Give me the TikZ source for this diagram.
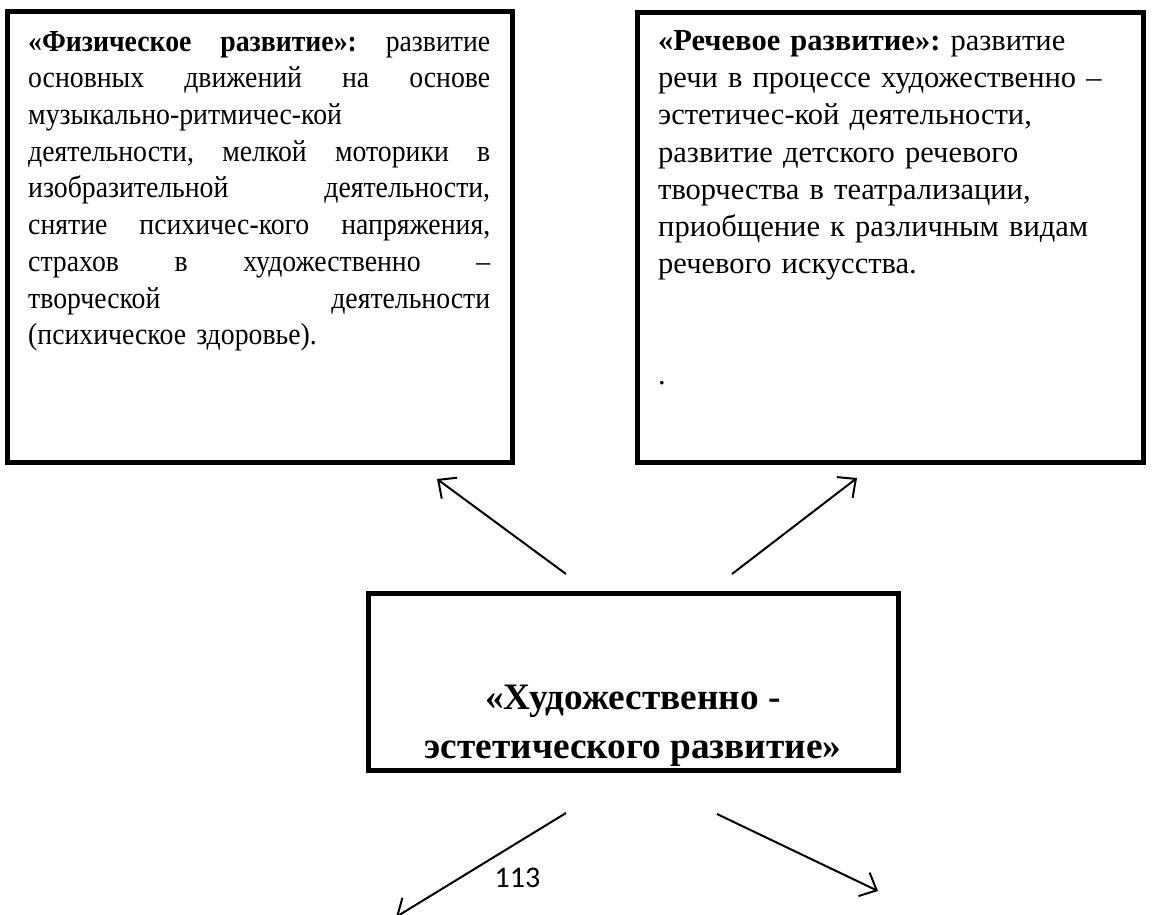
\documentclass[tikz,border=0pt]{standalone}
\usepackage{fontspec}
\setmainfont{Liberation Serif}
\newfontfamily\condfont[FakeStretch=0.91]{Liberation Serif}
\newfontfamily\numfont{Carlito}
\usetikzlibrary{arrows.meta}
\frenchspacing
\tikzset{
  bigbox/.style={draw=black, line width=5pt, rectangle, inner sep=0pt},
  bodytext/.style={anchor=north west, inner sep=0pt, text width=462pt, align=left,
    font=\fontsize{30.5}{37.3}\selectfont\frenchspacing},
  conn/.style={line width=2pt, -{Straight Barb[length=14pt, width=26pt, line width=2pt]}},
}
\newcommand{\jline}[1]{\makebox[462pt][s]{\spaceskip=0.25em plus 1fill\relax #1}\\}
\begin{document}
\begin{tikzpicture}[x=1pt, y=-1pt]
\useasboundingbox (0,0) rectangle (1176,915);
% boxes
\node[bigbox, minimum width=505pt, minimum height=450pt] (L) at (259.5,237) {};
\node[bigbox, minimum width=506pt, minimum height=449pt] (R) at (890,237.5) {};
\node[bigbox, minimum width=530pt, minimum height=177pt] (C) at (633,681.5) {};
% left text
\node[bodytext, font=\condfont\fontsize{30.5}{36.7}\selectfont] (Lt) at (28,31) {%
\jline{\textbf{«Физическое развитие»:} развитие}
\jline{основных движений на основе}
музыкально-ритмичес-кой\\
\jline{деятельности, мелкой моторики в}
\jline{изобразительной деятельности,}
\jline{снятие психичес-кого напряжения,}
\jline{страхов в художественно –}
\jline{творческой деятельности}
(психическое здоровье).};
% right text
\node[bodytext] (Rt) at (658,30) {%
\textbf{«Речевое развитие»:} развитие\\
речи в процессе художественно –\\
эстетичес-кой деятельности,\\
развитие детского речевого\\
творчества в театрализации,\\
приобщение к различным видам\\
речевого искусства.\\[73pt]
.};
% center text
\node[inner sep=0pt, align=center, font=\fontsize{37.3}{49}\selectfont\bfseries] (Ct) at (633,726) {«Художественно -\\эстетического развитие»};
% page number
\node[inner sep=0pt, font=\numfont\fontsize{30}{34}\selectfont] (pg) at (517.5,878) {113};
% arrows
\coordinate (a1s) at (566,574); \coordinate (a1e) at (437,479);
\coordinate (a2s) at (732,574); \coordinate (a2e) at (857,478);
\coordinate (a3s) at (566,813); \coordinate (a3e) at (396,917);
\coordinate (a4s) at (717,814); \coordinate (a4e) at (878,891);
\draw[conn] (a1s) -- (a1e);
\draw[conn] (a2s) -- (a2e);
\draw[conn] (a3s) -- (a3e);
\draw[conn] (a4s) -- (a4e);
\end{tikzpicture}
\end{document}
